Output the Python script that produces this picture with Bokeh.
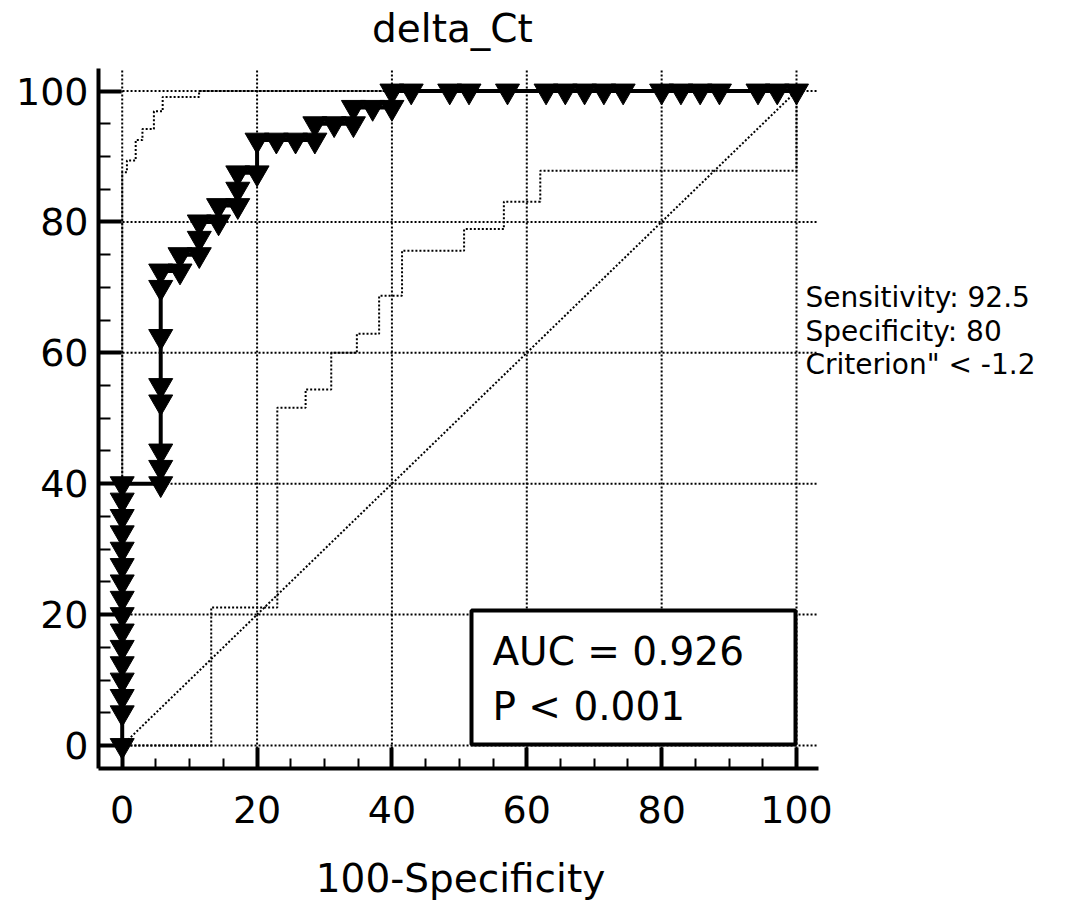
from bokeh.plotting import figure
from bokeh.models import Range1d, FixedTicker, Label, BoxAnnotation
from bokeh.embed import file_html
from bokeh.resources import INLINE

# ---------------- data ----------------
title_text = "delta_Ct"
x_axis_text = "100-Specificity"
tick_values = [0, 20, 40, 60, 80, 100]
minor_values = [5, 10, 15, 25, 30, 35, 45, 50, 55, 65, 70, 75, 85, 90, 95]

# ROC curve points (100-Specificity, Sensitivity)
roc_fpr = [0, 0, 0, 0, 0, 0, 0, 0, 0, 0, 0, 0, 0, 0, 0, 0,
           5.71, 5.71, 5.71, 5.71, 5.71, 5.71, 5.71, 5.71,
           8.57, 8.57,
           11.43, 11.43, 11.43,
           14.29, 14.29,
           17.14, 17.14, 17.14,
           20, 20,
           22.86, 25.71, 28.57, 28.57, 31.43, 34.29, 34.29, 37.14, 40, 40,
           42.86, 48.57, 51.43, 57.14, 62.86, 65.71, 68.57, 71.43, 74.29,
           80, 82.86, 85.71, 88.57, 94.29, 97.14, 100]
roc_tpr = [0, 5, 7.5, 10, 12.5, 15, 17.5, 20, 22.5, 25, 27.5, 30, 32.5, 35, 37.5, 40,
           40, 42.5, 45, 52.5, 55, 62.5, 70, 72.5,
           72.5, 75,
           75, 77.5, 80,
           80, 82.5,
           82.5, 85, 87.5,
           87.5, 92.5,
           92.5, 92.5, 92.5, 95, 95, 95, 97.5, 97.5, 97.5, 100,
           100, 100, 100, 100, 100, 100, 100, 100, 100,
           100, 100, 100, 100, 100, 100, 100]

# 95% confidence bounds
upper_fpr = [0, 0, 0.7, 0.7, 2.0, 2.0, 3.0, 3.0, 4.7, 4.7, 6.0, 6.0, 11.4, 11.4, 100]
upper_tpr = [0, 87.6, 87.6, 89.4, 89.4, 92.5, 92.5, 94.2, 94.2, 96.9, 96.9, 99.1, 99.1, 100, 100]
lower_fpr = [0, 13.2, 13.2, 23.0, 23.0, 27.2, 27.2, 31.0, 31.0, 34.8, 34.8, 38.1, 38.1,
             41.5, 41.5, 50.7, 50.7, 56.6, 56.6, 62.0, 62.0, 100, 100]
lower_tpr = [0, 0, 21.1, 21.1, 51.6, 51.6, 54.4, 54.4, 60.0, 60.0, 62.9, 62.9, 68.7,
             68.7, 75.6, 75.6, 78.9, 78.9, 83.1, 83.1, 87.8, 87.8, 100]

diag_x = [0, 100]
diag_y = [0, 100]

stats_lines = ["Sensitivity: 92.5", "Specificity: 80", 'Criterion" < -1.2']
auc_lines = ["AUC = 0.926", "P < 0.001"]

FONT = "DejaVu Sans"

# axis extents (data units)
X_LO, X_HI = -3.51, 103.26
Y_LO, Y_HI = -3.51, 103.4

W, H = 1060, 900

# ---------------- figure ----------------
# The frame fills the whole canvas; the axes sit at fixed locations inside it,
# so that the title, axis title and side texts can be placed as labels.
p = figure(width=W, height=H, output_backend="svg", toolbar_location=None,
           title_location=None,
           x_range=Range1d(-18.05, 139.15), y_range=Range1d(-23.68, 113.83),
           min_border=0, min_border_left=0, min_border_right=0,
           min_border_top=0, min_border_bottom=0)
p.outline_line_color = None
p.background_fill_color = "white"
p.border_fill_color = "white"
p.xgrid.visible = False
p.ygrid.visible = False

for ax in (p.xaxis[0], p.yaxis[0]):
    ax.ticker = FixedTicker(ticks=tick_values, minor_ticks=minor_values)
    ax.axis_line_width = 4
    ax.axis_line_color = "black"
    ax.major_tick_out = 0
    ax.minor_tick_out = 0
    ax.major_tick_line_width = 4
    ax.minor_tick_line_width = 2
    ax.major_tick_line_color = "black"
    ax.minor_tick_line_color = "black"
    ax.major_label_text_font = FONT
    ax.major_label_text_font_size = "38px"
    ax.major_label_text_color = "black"

p.xaxis[0].fixed_location = Y_LO
p.yaxis[0].fixed_location = X_LO
p.xaxis[0].bounds = (X_LO, X_HI)
p.yaxis[0].bounds = (Y_LO, Y_HI)
p.yaxis[0].major_tick_in = 23
p.yaxis[0].minor_tick_in = 12
p.yaxis[0].major_label_standoff = 10
p.xaxis[0].major_tick_in = 21
p.xaxis[0].minor_tick_in = 10
p.xaxis[0].major_label_standoff = 28

# dotted grid limited to the axis extents
p.segment(x0=tick_values, x1=tick_values, y0=[Y_LO] * len(tick_values),
          y1=[Y_HI] * len(tick_values), line_color="black", line_width=2,
          line_dash="2 2")
p.segment(x0=[X_LO] * len(tick_values), x1=[X_HI] * len(tick_values),
          y0=tick_values, y1=tick_values, line_color="black", line_width=2,
          line_dash="2 2")

# confidence bounds & diagonal
p.line(diag_x, diag_y, line_color="black", line_width=2, line_dash="2 2")
p.line(upper_fpr, upper_tpr, line_color="black", line_width=2, line_dash="2 2")
p.line(lower_fpr, lower_tpr, line_color="black", line_width=2, line_dash="2 2")

# ROC curve
p.line(roc_fpr, roc_tpr, line_color="black", line_width=4)
p.scatter(roc_fpr, roc_tpr, marker="inverted_triangle", size=24,
          fill_color="black", line_color="black", line_width=1)

# AUC box
p.add_layout(BoxAnnotation(left=51.8, right=99.85, bottom=0.15, top=20.63,
                           fill_color="white", fill_alpha=1.0,
                           line_color="black", line_alpha=1.0, line_width=4))
for i, t in enumerate(auc_lines):
    p.add_layout(Label(x=54.9, y=14.36 - i * 8.4, text=t, text_align="left",
                       text_baseline="middle", text_font=FONT,
                       text_font_size="39px", text_color="black"))

# right side statistics
for i, t in enumerate(stats_lines):
    p.add_layout(Label(x=101.33, y=68.45 - i * 5.12, text=t, text_align="left",
                       text_baseline="middle", text_font=FONT,
                       text_font_size="28px", text_color="black"))

# title and x axis title
p.add_layout(Label(x=48.98, y=109.55, text=title_text, text_align="center",
                   text_baseline="middle", text_font=FONT,
                   text_font_size="39px", text_color="black"))
p.add_layout(Label(x=50.17, y=-20.32, text=x_axis_text, text_align="center",
                   text_baseline="middle", text_font=FONT,
                   text_font_size="39px", text_color="black"))

open("out.html", "w").write(file_html(p, INLINE))
